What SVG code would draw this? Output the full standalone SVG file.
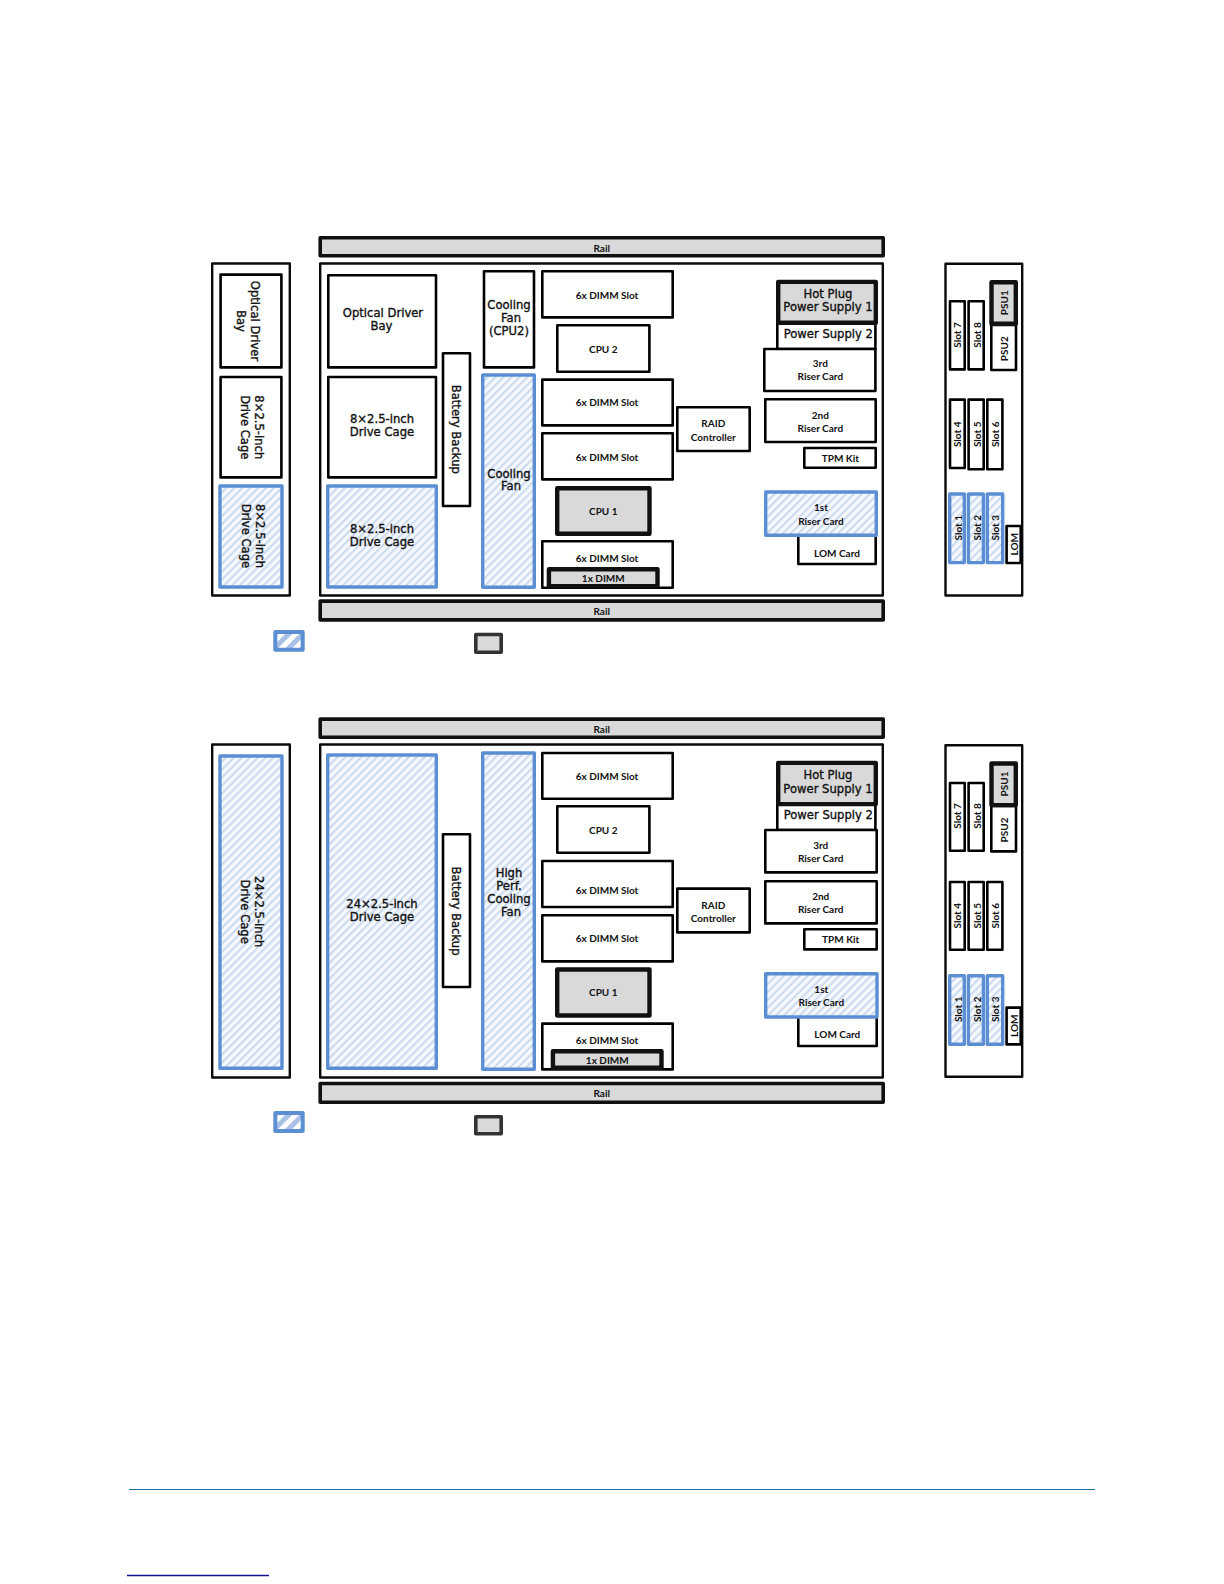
<svg xmlns="http://www.w3.org/2000/svg" width="1224" height="1584" viewBox="0 0 1224 1584">
<style>
.n{fill:#fff;stroke:#000;stroke-width:2.6;stroke-linejoin:round}
.p{fill:#fff;stroke:#0a0a0a;stroke-width:2.4;stroke-linejoin:round}
.g{fill:#d9d9d9;stroke:#111;stroke-width:3.6;stroke-linejoin:round}
.g4{fill:#d9d9d9;stroke:#111;stroke-width:4.4;stroke-linejoin:round}
.h{fill:url(#hatch);stroke:#5b8ed2;stroke-width:3.4;stroke-linejoin:round}
.lh{fill:url(#hatch2);stroke:#5b8ed2;stroke-width:4;stroke-linejoin:round}
text{fill:#111;text-anchor:middle;dominant-baseline:central}
.a{font-family:"DejaVu Sans","Liberation Sans",sans-serif;font-size:11.6px;stroke:#111;stroke-width:.35}
.s{font-family:Lato,"Liberation Sans",sans-serif;font-size:10px;font-weight:700}
</style>
<defs>
<pattern id="hatch" width="5.6" height="5.6" patternUnits="userSpaceOnUse" patternTransform="rotate(45)"><rect width="5.6" height="5.6" fill="#f6f9fd"/><rect width="2.2" height="5.6" fill="#cddbf0"/></pattern>
<pattern id="hatch2" width="10" height="10" patternUnits="userSpaceOnUse" patternTransform="rotate(45)"><rect width="10" height="10" fill="#fff"/><rect width="5" height="10" fill="#a9c1e6"/></pattern>
</defs>
<g id="connectors"></g>

<g id="fig1">
<g id="f1-rail-top"><rect class="g" x="320.2" y="237.8" width="563" height="18"/><text class="s" x="601.7" y="247.7">Rail</text></g>
<g id="f1-front"><rect class="p" x="212.2" y="263.5" width="77.6" height="332"/></g>
<g id="f1-chassis"><rect class="p" x="320.2" y="263.5" width="562.6" height="332"/></g>
<g id="f1-rail-bottom"><rect class="g" x="320.2" y="601.1" width="563" height="18.8"/><text class="s" x="601.7" y="611">Rail</text></g>
<g id="f1-front-optical"><rect class="n" x="220.6" y="274.6" width="60.8" height="92.8"/><text class="a" transform="translate(255 321) rotate(90)">Optical Driver</text><text class="a" transform="translate(241 321) rotate(90)">Bay</text></g>
<g id="f1-front-cage1"><rect class="n" x="220.6" y="377" width="60.8" height="100.4"/><text class="a" transform="translate(259 427.3) rotate(90)">8×2.5-inch</text><text class="a" transform="translate(245 427.3) rotate(90)">Drive Cage</text></g>
<g id="f1-front-cage2"><rect class="h" x="220" y="486" width="62" height="101"/><text class="a" transform="translate(260 536) rotate(90)">8×2.5-inch</text><text class="a" transform="translate(245.7 536) rotate(90)">Drive Cage</text></g>
<g id="f1-optical"><rect class="n" x="328.3" y="275.3" width="107.7" height="92.1"/><text class="a" x="383" y="313">Optical Driver</text><text class="a" x="381.5" y="326.3">Bay</text></g>
<g id="f1-cage1"><rect class="n" x="328.3" y="377" width="107.7" height="100.4"/><text class="a" x="382" y="418.7">8×2.5-inch</text><text class="a" x="382" y="432">Drive Cage</text></g>
<g id="f1-cage2"><rect class="h" x="327.7" y="486" width="108.6" height="101"/><text class="a" x="382" y="528.7">8×2.5-inch</text><text class="a" x="382" y="542">Drive Cage</text></g>
<g id="f1-battery"><rect class="n" x="443" y="353.3" width="27" height="152.7"/><text class="a" transform="translate(456 429.3) rotate(90)">Battery Backup</text></g>
<g id="f1-fan-cpu2"><rect class="n" x="484" y="271.3" width="50" height="96.1"/><text class="a" x="509" y="305">Cooling</text><text class="a" x="511" y="318">Fan</text><text class="a" x="509" y="331">(CPU2)</text></g>
<g id="f1-fan"><rect class="h" x="482.7" y="375" width="51.6" height="212.3"/><text class="a" x="509" y="473.7">Cooling</text><text class="a" x="511" y="486.3">Fan</text></g>
<g id="f1-dimm1"><rect class="n" x="542.3" y="271.3" width="130.4" height="46.1"/><text class="s" x="607" y="294.7">6x DIMM Slot</text></g>
<g id="f1-cpu2"><rect class="n" x="557.3" y="325.3" width="92.1" height="46.4"/><text class="s" x="603.3" y="348.7">CPU 2</text></g>
<g id="f1-dimm2"><rect class="n" x="542.3" y="379.6" width="130.4" height="45.8"/><text class="s" x="607" y="402.3">6x DIMM Slot</text></g>
<g id="f1-dimm3"><rect class="n" x="542.3" y="433.3" width="130.4" height="46.1"/><text class="s" x="607" y="456.7">6x DIMM Slot</text></g>
<g id="f1-cpu1"><rect class="g4" x="557.2" y="488.2" width="92.3" height="45.6"/><text class="s" x="603.3" y="511">CPU 1</text></g>
<g id="f1-dimm4"><rect class="n" x="542.3" y="541.3" width="130.4" height="46.4"/><text class="s" x="607" y="558">6x DIMM Slot</text></g>
<g id="f1-dimm1x"><rect class="g4" x="548.9" y="569.2" width="108.6" height="17"/><text class="s" x="603.3" y="578.3">1x DIMM</text></g>
<g id="f1-raid"><rect class="n" x="677.3" y="407.3" width="72.4" height="43.7"/><text class="s" x="713.3" y="423.3">RAID</text><text class="s" x="713.3" y="436.7">Controller</text></g>
<g id="f1-ps2"><rect class="n" x="777.3" y="322" width="98.1" height="27"/><text class="a" x="828.3" y="334">Power Supply 2</text></g>
<g id="f1-ps1"><rect class="g4" x="778.2" y="281.9" width="97.6" height="40.9"/><text class="a" x="828" y="294">Hot Plug</text><text class="a" x="828" y="307.3">Power Supply 1</text></g>
<g id="f1-riser3"><rect class="n" x="764.3" y="349" width="111.1" height="42"/><text class="s" x="820.3" y="363.3">3rd</text><text class="s" x="820.3" y="376.3">Riser Card</text></g>
<g id="f1-riser2"><rect class="n" x="765.3" y="399.3" width="110.4" height="42.7"/><text class="s" x="820.3" y="415">2nd</text><text class="s" x="820.3" y="428">Riser Card</text></g>
<g id="f1-tpm"><rect class="n" x="804.3" y="448" width="71.4" height="19.7"/><text class="s" x="840.3" y="458">TPM Kit</text></g>
<g id="f1-lom-card"><rect class="n" x="798.3" y="530" width="77.4" height="34"/><text class="s" x="837" y="552.7">LOM Card</text></g>
<g id="f1-riser1"><rect class="h" x="765.7" y="492" width="110.6" height="43.3"/><text class="s" x="821" y="507.3">1st</text><text class="s" x="821" y="520.7">Riser Card</text></g>
<g id="f1-rear"><rect class="p" x="945.5" y="263.8" width="76.7" height="331.7"/></g>
<g id="f1-slot7"><rect class="n" x="950" y="301.3" width="14.7" height="68.1"/><text class="s" transform="translate(957.2 335) rotate(-90)">Slot 7</text></g>
<g id="f1-slot8"><rect class="n" x="968.6" y="301.3" width="15.1" height="68.1"/><text class="s" transform="translate(976.6 335) rotate(-90)">Slot 8</text></g>
<g id="f1-psu2"><rect class="n" x="991.3" y="325" width="24.7" height="45"/><text class="s" transform="translate(1003.6 348.7) rotate(-90)">PSU2</text></g>
<g id="f1-psu1"><rect class="g4" x="991.5" y="282.2" width="24.3" height="41.6"/><text class="s" transform="translate(1003.6 302.7) rotate(-90)">PSU1</text></g>
<g id="f1-slot4"><rect class="n" x="950" y="399.6" width="14.7" height="68.4"/><text class="s" transform="translate(957.2 434.3) rotate(-90)">Slot 4</text></g>
<g id="f1-slot5"><rect class="n" x="968.6" y="399.6" width="15.1" height="69.7"/><text class="s" transform="translate(976.6 434.3) rotate(-90)">Slot 5</text></g>
<g id="f1-slot6"><rect class="n" x="987.3" y="399.6" width="15.1" height="69.7"/><text class="s" transform="translate(995.2 434.3) rotate(-90)">Slot 6</text></g>
<g id="f1-slot1"><rect class="h" x="949.7" y="494" width="14.6" height="68.6"/><text class="s" transform="translate(957.5 527.7) rotate(-90)">Slot 1</text></g>
<g id="f1-slot2"><rect class="h" x="968.4" y="494" width="15" height="68.6"/><text class="s" transform="translate(976.6 527.7) rotate(-90)">Slot 2</text></g>
<g id="f1-slot3"><rect class="h" x="987.3" y="494" width="15.4" height="68.6"/><text class="s" transform="translate(995.2 527.7) rotate(-90)">Slot 3</text></g>
<g id="f1-lom"><rect class="n" x="1006.6" y="526" width="14.1" height="37"/><text class="s" transform="translate(1014.2 544.3) rotate(-90)">LOM</text></g>
<g id="f1-legend-h"><rect class="lh" x="275.3" y="632" width="27.4" height="17.7"/></g>
<g id="f1-legend-g"><rect fill="#d9d9d9" stroke="#333" stroke-width="3.6" stroke-linejoin="round" x="475.8" y="634.5" width="25.4" height="17.7"/></g>
</g>

<g id="fig2">
<g id="f2-rail-top"><rect class="g" x="320.2" y="719.1" width="563" height="18.2"/><text class="s" x="601.7" y="728.7">Rail</text></g>
<g id="f2-front"><rect class="p" x="212.2" y="744.5" width="77.6" height="333"/></g>
<g id="f2-chassis"><rect class="p" x="320.2" y="744.5" width="562.6" height="333"/></g>
<g id="f2-rail-bottom"><rect class="g" x="320.2" y="1083.5" width="563" height="18.8"/><text class="s" x="601.7" y="1092.7">Rail</text></g>
<g id="f2-front-cage"><rect class="h" x="220" y="756" width="62" height="312.3"/><text class="a" transform="translate(259.3 911.7) rotate(90)">24×2.5-inch</text><text class="a" transform="translate(245 911.7) rotate(90)">Drive Cage</text></g>
<g id="f2-cage"><rect class="h" x="327.7" y="755" width="108.6" height="313.3"/><text class="a" x="382" y="903.7">24×2.5-inch</text><text class="a" x="382" y="917">Drive Cage</text></g>
<g id="f2-battery"><rect class="n" x="443" y="834.3" width="27" height="152.7"/><text class="a" transform="translate(456 911) rotate(90)">Battery Backup</text></g>
<g id="f2-fan"><rect class="h" x="482.7" y="753" width="51.6" height="316.3"/><text class="a" x="509" y="873">High</text><text class="a" x="509" y="886">Perf.</text><text class="a" x="509" y="899.3">Cooling</text><text class="a" x="511" y="912.3">Fan</text></g>
<g id="f2-dimm1"><rect class="n" x="542.3" y="753" width="130.4" height="45.7"/><text class="s" x="607" y="775.7">6x DIMM Slot</text></g>
<g id="f2-cpu2"><rect class="n" x="557.3" y="806.3" width="92.1" height="46.4"/><text class="s" x="603.3" y="830.3">CPU 2</text></g>
<g id="f2-dimm2"><rect class="n" x="542.3" y="861" width="130.4" height="46"/><text class="s" x="607" y="890.3">6x DIMM Slot</text></g>
<g id="f2-dimm3"><rect class="n" x="542.3" y="915.3" width="130.4" height="46.1"/><text class="s" x="607" y="938.3">6x DIMM Slot</text></g>
<g id="f2-cpu1"><rect class="g4" x="557.2" y="969.5" width="92.3" height="46"/><text class="s" x="603.3" y="992.3">CPU 1</text></g>
<g id="f2-dimm4"><rect class="n" x="542.3" y="1023.6" width="130.4" height="45.8"/><text class="s" x="607" y="1039.7">6x DIMM Slot</text></g>
<g id="f2-dimm1x"><rect class="g4" x="552.9" y="1051.2" width="108.6" height="16.6"/><text class="s" x="607.3" y="1060.3">1x DIMM</text></g>
<g id="f2-raid"><rect class="n" x="677.3" y="888.6" width="72.4" height="43.8"/><text class="s" x="713.3" y="904.7">RAID</text><text class="s" x="713.3" y="918">Controller</text></g>
<g id="f2-ps2"><rect class="n" x="777.3" y="803" width="98.1" height="27"/><text class="a" x="828.3" y="815.3">Power Supply 2</text></g>
<g id="f2-ps1"><rect class="g4" x="778.2" y="762.9" width="97.6" height="41.2"/><text class="a" x="828" y="775.3">Hot Plug</text><text class="a" x="828" y="788.7">Power Supply 1</text></g>
<g id="f2-riser3"><rect class="n" x="765.3" y="830" width="111.4" height="42.4"/><text class="s" x="820.7" y="844.7">3rd</text><text class="s" x="820.7" y="857.7">Riser Card</text></g>
<g id="f2-riser2"><rect class="n" x="765.3" y="881.3" width="111.4" height="42.1"/><text class="s" x="820.7" y="896.3">2nd</text><text class="s" x="820.7" y="909.3">Riser Card</text></g>
<g id="f2-tpm"><rect class="n" x="804.3" y="929.3" width="72.4" height="20.1"/><text class="s" x="840.7" y="939.3">TPM Kit</text></g>
<g id="f2-lom-card"><rect class="n" x="798.3" y="1012" width="78.4" height="34"/><text class="s" x="837.3" y="1034.3">LOM Card</text></g>
<g id="f2-riser1"><rect class="h" x="765.7" y="973.7" width="111.3" height="43.3"/><text class="s" x="821.3" y="989.3">1st</text><text class="s" x="821.3" y="1002.3">Riser Card</text></g>
<g id="f2-rear"><rect class="p" x="945.5" y="745.2" width="76.7" height="331.6"/></g>
<g id="f2-slot7"><rect class="n" x="950" y="783" width="14.7" height="67.7"/><text class="s" transform="translate(957.2 816) rotate(-90)">Slot 7</text></g>
<g id="f2-slot8"><rect class="n" x="968.6" y="783" width="15.1" height="67.7"/><text class="s" transform="translate(976.6 816) rotate(-90)">Slot 8</text></g>
<g id="f2-psu2"><rect class="n" x="991.3" y="806" width="24.7" height="45.4"/><text class="s" transform="translate(1003.6 830) rotate(-90)">PSU2</text></g>
<g id="f2-psu1"><rect class="g4" x="991.5" y="763.5" width="24.3" height="41.6"/><text class="s" transform="translate(1003.6 784) rotate(-90)">PSU1</text></g>
<g id="f2-slot4"><rect class="n" x="950" y="882" width="14.7" height="67.7"/><text class="s" transform="translate(957.2 915.7) rotate(-90)">Slot 4</text></g>
<g id="f2-slot5"><rect class="n" x="968.6" y="882" width="15.1" height="67.7"/><text class="s" transform="translate(976.6 915.7) rotate(-90)">Slot 5</text></g>
<g id="f2-slot6"><rect class="n" x="987.3" y="882" width="15.1" height="67.7"/><text class="s" transform="translate(995.2 915.7) rotate(-90)">Slot 6</text></g>
<g id="f2-slot1"><rect class="h" x="949.7" y="975.7" width="14.6" height="68.6"/><text class="s" transform="translate(957.5 1009.3) rotate(-90)">Slot 1</text></g>
<g id="f2-slot2"><rect class="h" x="968.4" y="975.7" width="15" height="68.6"/><text class="s" transform="translate(976.6 1009.3) rotate(-90)">Slot 2</text></g>
<g id="f2-slot3"><rect class="h" x="987.3" y="975.7" width="15.4" height="68.6"/><text class="s" transform="translate(995.2 1009.3) rotate(-90)">Slot 3</text></g>
<g id="f2-lom"><rect class="n" x="1006.6" y="1007.6" width="14.1" height="36.8"/><text class="s" transform="translate(1014.2 1025.7) rotate(-90)">LOM</text></g>
<g id="f2-legend-h"><rect class="lh" x="275.3" y="1113" width="27.4" height="18"/></g>
<g id="f2-legend-g"><rect fill="#d9d9d9" stroke="#333" stroke-width="3.6" stroke-linejoin="round" x="475.8" y="1116.8" width="25.4" height="17"/></g>
</g>

<g id="page-rules">
<line x1="129" y1="1489.5" x2="1095" y2="1489.5" stroke="#1f6fa3" stroke-width="1.2"/>
<line x1="127" y1="1575.5" x2="269" y2="1575.5" stroke="#14148f" stroke-width="1.4"/>
</g>
</svg>
